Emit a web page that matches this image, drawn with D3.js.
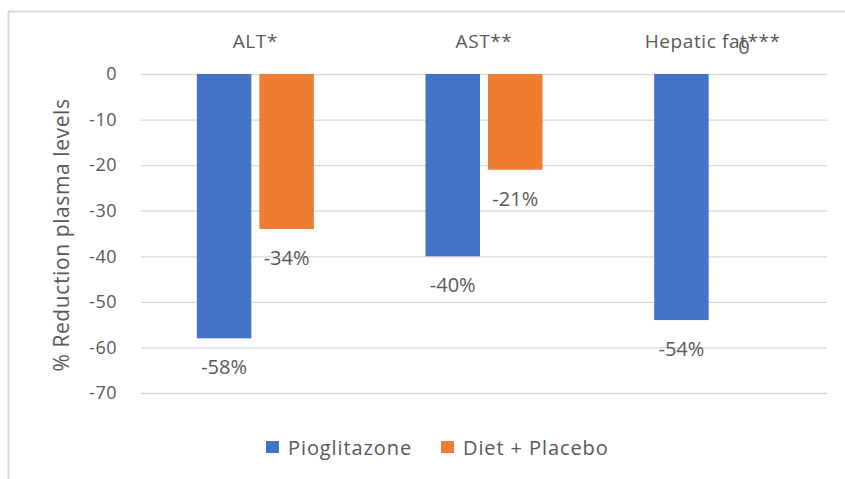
<!DOCTYPE html>
<html>
<head>
<meta charset="utf-8">
<script src="https://cdn.jsdelivr.net/npm/d3@7"></script>
<style>
  body { margin: 0; background: #fff; }
  svg text { font-family: "Open Sans", sans-serif; fill: #595959; }
</style>
</head>
<body>
<div id="chart"></div>
<script>
const categories = ["ALT*", "AST**", "Hepatic fat***"];
const seriesNames = ["Pioglitazone", "Diet + Placebo"];
const pioglitazone = [-58, -40, -54];
const dietPlacebo = [-34, -21, 0];
const yTicks = [0, -10, -20, -30, -40, -50, -60, -70];
const colors = ["#4472c4", "#ed7d31"];

const width = 845, height = 479;
const margin = { top: 74, right: 18, bottom: 86, left: 141 };
const innerW = width - margin.left - margin.right;
const innerH = height - margin.top - margin.bottom;

const svg = d3.select("#chart").append("svg")
  .attr("width", width).attr("height", height);

// chart frame: only top and left edges show
svg.append("path")
  .attr("d", "M8.5,479 V11.5 H845")
  .attr("fill", "none").attr("stroke", "#d9d9d9").attr("stroke-width", 2);

const g = svg.append("g").attr("transform", `translate(${margin.left},${margin.top})`);

const x = d3.scaleBand().domain(categories).range([0, innerW]);
const y = d3.scaleLinear().domain([0, -70]).range([0, innerH]);
const barW = 51, gap = 15;
const xs = d3.scaleBand().domain(seriesNames).range([0, 2 * barW + gap]).paddingInner(gap / (2 * barW + gap));

// gridlines + tick labels
const yAxis = g.append("g").call(d3.axisLeft(y).tickValues(yTicks).tickSize(-innerW).tickFormat(d => String(d)));
yAxis.select(".domain").remove();
yAxis.selectAll(".tick line").attr("stroke", "#d9d9d9").attr("stroke-width", 1.3);
yAxis.selectAll(".tick text").attr("x", -24).attr("font-size", 18).attr("letter-spacing", 0.5);

// category labels sit at the top
g.append("g").selectAll("text").data(categories).join("text")
  .attr("x", d => x(d) + x.bandwidth() / 2)
  .attr("y", -26)
  .attr("text-anchor", "middle")
  .attr("font-size", 19)
  .attr("letter-spacing", 0.6)
  .text(d => d);

const rows = categories.map((c, i) => ({ cat: c, vals: [pioglitazone[i], dietPlacebo[i]] }));

const groups = g.selectAll(".grp").data(rows).join("g")
  .attr("transform", d => `translate(${x(d.cat) + x.bandwidth() / 2 - (2 * barW + gap) / 2},0)`);

groups.selectAll("rect").data(d => d.vals.map((v, j) => ({ v, s: seriesNames[j], j }))).join("rect")
  .attr("x", d => xs(d.s))
  .attr("y", y(0))
  .attr("width", xs.bandwidth())
  .attr("height", d => y(d.v) - y(0))
  .attr("fill", d => colors[d.j]);

groups.selectAll(".lbl").data(d => d.vals.map((v, j) => ({ v, s: seriesNames[j] }))).join("text")
  .attr("class", "lbl")
  .attr("x", d => xs(d.s) + xs.bandwidth() / 2)
  .attr("y", d => d.v === 0 ? -20 : y(d.v) + 36)
  .attr("text-anchor", "middle")
  .attr("font-size", 20)
  .text(d => d.v === 0 ? "0" : d.v + "%");

// y axis title
svg.append("text")
  .attr("transform", "translate(69,235) rotate(-90)")
  .attr("text-anchor", "middle")
  .attr("font-size", 21)
  .attr("letter-spacing", 0.6)
  .text("% Reduction plasma levels");

// legend
const legend = svg.append("g").attr("transform", "translate(266,455)");
const items = [{ name: seriesNames[0], x: 0 }, { name: seriesNames[1], x: 175 }];
items.forEach((it, i) => {
  legend.append("rect").attr("x", it.x).attr("y", -14).attr("width", 13).attr("height", 12).attr("fill", colors[i]);
  legend.append("text").attr("x", it.x + 22).attr("y", 0)
    .attr("font-size", 20).attr("letter-spacing", 0.9).text(it.name);
});
</script>
</body>
</html>
